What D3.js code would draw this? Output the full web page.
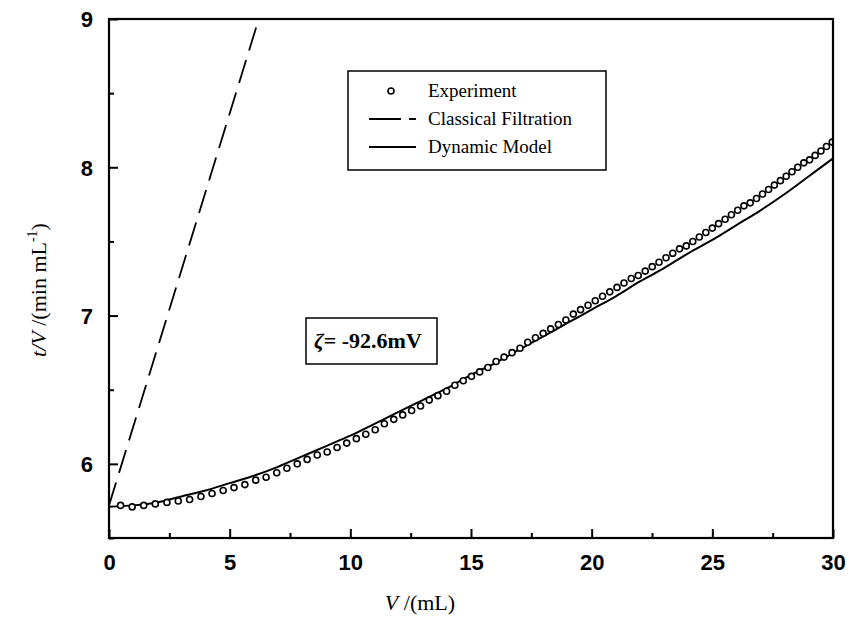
<!DOCTYPE html>
<html>
<head>
  <title>t/V versus V</title>
  <script src="https://d3js.org/d3.v7.min.js"></script>
  <style>
  body { margin: 0; background: #fff; }
  svg { background: #fff; display: block; }
  .tick-label { font-family: "Liberation Sans", Arial, sans-serif; font-weight: bold; font-size: 22px; fill: #000; }
  .serif { font-family: "Liberation Serif", "Times New Roman", serif; fill: #000; }
  </style>
</head>
<body>
  <script>
    // experiment: V (mL) and t/V (min/mL)
    var expV = [0.48, 0.96, 1.44, 1.92, 2.40, 2.87, 3.34, 3.81, 4.27, 4.73,
      5.18, 5.63, 6.08, 6.51, 6.95, 7.37, 7.80, 8.21, 8.63, 9.04,
      9.45, 9.85, 10.25, 10.64, 11.03, 11.41, 11.80, 12.17, 12.54, 12.91,
      13.27, 13.63, 13.99, 14.33, 14.68, 15.02, 15.36, 15.70, 16.04, 16.37,
      16.70, 17.03, 17.35, 17.67, 17.99, 18.30, 18.62, 18.93, 19.24, 19.54,
      19.85, 20.15, 20.45, 20.75, 21.05, 21.34, 21.64, 21.93, 22.22, 22.51,
      22.79, 23.08, 23.36, 23.64, 23.92, 24.19, 24.46, 24.73, 25.00, 25.26,
      25.53, 25.79, 26.05, 26.31, 26.57, 26.83, 27.08, 27.33, 27.57, 27.82,
      28.06, 28.30, 28.54, 28.79, 29.03, 29.26, 29.50, 29.73, 29.97];
    var expT = [5.72, 5.71, 5.72, 5.73, 5.74, 5.75, 5.76, 5.78, 5.80, 5.82,
      5.84, 5.86, 5.89, 5.91, 5.94, 5.97, 6.00, 6.03, 6.06, 6.08,
      6.11, 6.14, 6.17, 6.20, 6.23, 6.27, 6.30, 6.33, 6.36, 6.39,
      6.43, 6.46, 6.49, 6.53, 6.56, 6.59, 6.62, 6.65, 6.69, 6.72,
      6.75, 6.78, 6.82, 6.85, 6.88, 6.91, 6.94, 6.97, 7.01, 7.04,
      7.07, 7.10, 7.13, 7.16, 7.19, 7.22, 7.25, 7.27, 7.30, 7.33,
      7.36, 7.39, 7.42, 7.45, 7.47, 7.50, 7.53, 7.56, 7.59, 7.62,
      7.65, 7.68, 7.71, 7.74, 7.76, 7.79, 7.82, 7.85, 7.88, 7.91,
      7.94, 7.97, 8.00, 8.03, 8.05, 8.08, 8.11, 8.14, 8.17];

    // dynamic model
    var modelV = [0, 1, 2, 3, 4, 5, 6, 7, 8, 9, 10, 11, 12, 13, 14, 15,
      16, 17, 18, 19, 20, 21, 22, 23, 24, 25, 26, 27, 28, 29, 30];
    var modelT = [5.71, 5.72, 5.74, 5.78, 5.82, 5.87, 5.92, 5.98, 6.05, 6.12, 6.19,
      6.27, 6.35, 6.43, 6.51, 6.60, 6.68, 6.77, 6.86, 6.95, 7.04,
      7.13, 7.23, 7.32, 7.42, 7.51, 7.61, 7.71, 7.82, 7.94, 8.06];

    // classical filtration (straight line)
    var classicV = [0, 7];
    var classicT = [5.72, 9.42];

    var xTicks = [0, 5, 10, 15, 20, 25, 30];
    var yTicks = [6, 7, 8, 9];
    var xMinor = [2.5, 7.5, 12.5, 17.5, 22.5, 27.5];
    var yMinor = [5.5, 6.5, 7.5, 8.5];

    var legendLabels = ["Experiment", "Classical Filtration", "Dynamic Model"];

    var width = 852;
    var height = 636;
    var margin = { left: 109, right: 19, top: 19, bottom: 98 };

    var svg = d3.select("body")
      .append("svg")
      .attr("width", width)
      .attr("height", height);

    var x = d3.scaleLinear()
      .domain([0, 30])
      .range([margin.left, width - margin.right]);

    var y = d3.scaleLinear()
      .domain([5.5, 9])
      .range([height - margin.bottom, margin.top]);

    svg.append("clipPath")
      .attr("id", "plot-clip")
      .append("rect")
      .attr("x", x(0))
      .attr("y", y(9))
      .attr("width", x(30) - x(0))
      .attr("height", y(5.5) - y(9));

    var plot = svg.append("g").attr("clip-path", "url(#plot-clip)");

    // classical filtration
    plot.append("path")
      .datum(d3.range(classicV.length))
      .attr("fill", "none")
      .attr("stroke", "#000")
      .attr("stroke-width", 1.8)
      .attr("stroke-dasharray", "24,10")
      .attr("d", d3.line()
        .x(function(i) { return x(classicV[i]); })
        .y(function(i) { return y(classicT[i]); }));

    // dynamic model
    plot.append("path")
      .datum(d3.range(modelV.length))
      .attr("fill", "none")
      .attr("stroke", "#000")
      .attr("stroke-width", 2)
      .attr("d", d3.line()
        .curve(d3.curveMonotoneX)
        .x(function(i) { return x(modelV[i]); })
        .y(function(i) { return y(modelT[i]); }));

    // experiment
    plot.selectAll("circle.exp")
      .data(d3.range(expV.length))
      .enter()
      .append("circle")
      .attr("class", "exp")
      .attr("cx", function(i) { return x(expV[i]); })
      .attr("cy", function(i) { return y(expT[i]); })
      .attr("r", 3)
      .attr("fill", "#fff")
      .attr("stroke", "#000")
      .attr("stroke-width", 1.6);

    // frame
    svg.append("rect")
      .attr("x", x(0))
      .attr("y", y(9))
      .attr("width", x(30) - x(0))
      .attr("height", y(5.5) - y(9))
      .attr("fill", "none")
      .attr("stroke", "#000")
      .attr("stroke-width", 2.2);

    // axes with inward ticks
    var fmt = d3.format("d");
    var xAxis = svg.append("g")
      .attr("transform", "translate(0," + y(5.5) + ")")
      .call(d3.axisBottom(x).tickValues(xTicks).tickFormat(fmt).tickSizeInner(-9).tickSizeOuter(0).tickPadding(16));
    xAxis.append("g").call(d3.axisBottom(x).tickValues(xMinor).tickSizeInner(-5).tickSizeOuter(0).tickFormat(""));

    var yAxis = svg.append("g")
      .attr("transform", "translate(" + x(0) + ",0)")
      .call(d3.axisLeft(y).tickValues(yTicks).tickFormat(fmt).tickSizeInner(-9).tickSizeOuter(0).tickPadding(16));
    yAxis.append("g").call(d3.axisLeft(y).tickValues(yMinor).tickSizeInner(-5).tickSizeOuter(0).tickFormat(""));

    svg.selectAll(".domain").remove();
    svg.selectAll(".tick line").attr("stroke", "#000").attr("stroke-width", 2);
    svg.selectAll(".tick text").attr("class", "tick-label").attr("font-family", null).attr("font-size", null);
    yAxis.selectAll(".tick text").attr("dy", "0.36em");

    // axis titles
    var xTitle = svg.append("text")
      .attr("class", "serif")
      .attr("x", 420)
      .attr("y", 610)
      .attr("text-anchor", "middle")
      .attr("font-size", 22);
    xTitle.append("tspan").attr("font-style", "italic").text("V");
    xTitle.append("tspan").text(" /(mL)");

    var yTitle = svg.append("text")
      .attr("class", "serif")
      .attr("transform", "translate(46,290) rotate(-90)")
      .attr("text-anchor", "middle")
      .attr("font-size", 22);
    yTitle.append("tspan").attr("font-style", "italic").text("t/V");
    yTitle.append("tspan").text(" /(min mL");
    yTitle.append("tspan").attr("font-size", 14).attr("dy", -9).text("-1");
    yTitle.append("tspan").attr("dy", 9).text(")");

    // legend
    var legend = svg.append("g");
    legend.append("rect")
      .attr("x", 348).attr("y", 71)
      .attr("width", 258).attr("height", 99)
      .attr("fill", "#fff").attr("stroke", "#000").attr("stroke-width", 1.5);

    var rowY = [91, 119, 147];
    legend.append("circle")
      .attr("cx", 391).attr("cy", rowY[0]).attr("r", 3)
      .attr("fill", "#fff").attr("stroke", "#000").attr("stroke-width", 1.6);
    legend.append("line")
      .attr("x1", 369).attr("x2", 416).attr("y1", rowY[1]).attr("y2", rowY[1])
      .attr("stroke", "#000").attr("stroke-width", 1.8).attr("stroke-dasharray", "32,8");
    legend.append("line")
      .attr("x1", 369).attr("x2", 416).attr("y1", rowY[2]).attr("y2", rowY[2])
      .attr("stroke", "#000").attr("stroke-width", 2);

    legend.selectAll("text")
      .data(legendLabels)
      .enter()
      .append("text")
      .attr("class", "serif")
      .attr("x", 428)
      .attr("y", function(d, i) { return rowY[i] + 6; })
      .attr("font-size", 19)
      .text(function(d) { return d; });

    // zeta annotation
    var note = svg.append("g");
    note.append("rect")
      .attr("x", 306).attr("y", 318)
      .attr("width", 131).attr("height", 46)
      .attr("fill", "#fff").attr("stroke", "#000").attr("stroke-width", 1.5);
    var noteText = note.append("text")
      .attr("class", "serif")
      .attr("x", 314).attr("y", 348)
      .attr("font-size", 22)
      .attr("font-weight", "bold");
    noteText.append("tspan").attr("font-style", "italic").text("ζ");
    noteText.append("tspan").text("= -92.6mV");
  </script>
</body>
</html>
